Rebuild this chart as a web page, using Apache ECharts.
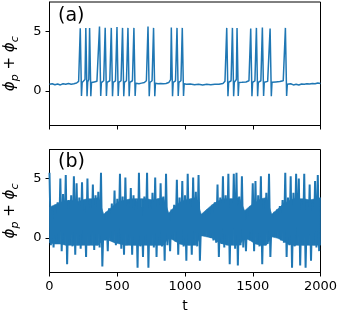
<!DOCTYPE html>
<html>
<head>
<meta charset="utf-8">
<script src="https://cdn.jsdelivr.net/npm/echarts@6/dist/echarts.min.js"></script>
<style>
  html, body { margin: 0; padding: 0; background: #fff; }
  #main { width: 341px; height: 321px; }
</style>
</head>
<body>
<div id="main"></div>
<script>
// panel (a): [t, value] points
const topSignal = [
  [0,0.55],[20,0.6],[40,0.52],[60,0.58],[80,0.5],[100,0.6],[120,0.55],[140,0.62],[160,0.56],[180,0.6],[200,0.66],[215,0.8],[222,0.95],
  [227,5.25],[236,-0.42],[241,0.7],[252,0.85],[262,0.95],
  [268,5.28],[277,-0.45],[282,0.75],[290,0.95],
  [296,5.28],[305,-0.45],[310,0.7],[330,0.75],[350,0.8],[363,0.95],
  [369,5.4],[378,-0.42],[383,0.7],[400,0.85],[406,0.95],
  [411,5.3],[420,-0.42],[425,0.72],[445,0.85],[451,0.95],
  [456,5.28],[465,-0.45],[470,0.72],[487,0.85],[493,0.95],
  [498,5.35],[507,-0.42],[512,0.72],[528,0.85],[534,0.95],
  [539,5.28],[548,-0.45],[553,0.72],[568,0.85],[574,0.95],
  [579,5.28],[588,-0.45],[593,0.72],[612,0.85],[618,0.95],
  [623,5.28],[632,-0.42],[637,0.65],[660,0.6],[680,0.65],[700,0.7],[715,0.85],[722,1.0],
  [727,5.4],[736,-0.45],[741,0.7],[757,0.85],[763,0.95],
  [768,5.28],[777,-0.45],[782,0.65],[800,0.6],[820,0.62],[840,0.6],[860,0.62],[880,0.7],[890,0.85],[894,0.95],
  [899,5.32],[908,-0.45],[913,0.72],[930,0.85],[936,0.95],
  [941,5.28],[950,-0.42],[955,0.72],[970,0.85],[975,0.95],
  [980,5.28],[989,-0.42],[994,0.6],[1010,0.55],[1040,0.58],[1070,0.52],[1100,0.56],[1130,0.5],[1160,0.55],[1190,0.52],[1220,0.56],[1250,0.55],[1280,0.62],[1295,0.8],[1303,0.95],
  [1308,5.28],[1317,-0.45],[1322,0.72],[1340,0.85],[1345,0.95],
  [1350,5.28],[1359,-0.45],[1364,0.72],[1375,0.85],[1379,0.95],
  [1384,5.28],[1393,-0.42],[1398,0.7],[1420,0.72],[1450,0.75],[1472,0.85],[1480,0.95],
  [1485,5.22],[1494,-0.45],[1499,0.72],[1516,0.85],[1522,0.95],
  [1527,5.28],[1536,-0.45],[1541,0.72],[1560,0.85],[1566,0.95],
  [1571,5.32],[1580,-0.42],[1585,0.72],[1610,0.8],[1623,0.95],
  [1628,5.22],[1637,-0.45],[1642,0.72],[1670,0.75],[1700,0.78],[1725,0.85],[1736,0.95],
  [1741,5.28],[1750,-0.42],[1755,0.55],[1780,0.6],[1800,0.5],[1820,0.55],[1840,0.5],[1860,0.58],[1880,0.55],[1900,0.6],[1920,0.58],[1940,0.62],[1960,0.6],[1980,0.66],[2000,0.62]
];

// panel (b): local maxima / minima every bottomStep in t
const bottomStep = 20;
const bottomHigh = [
  5.5, 2.3, 2.6, 3.0, 5.0, 3.7, 5.3, 3.2, 3.6, 5.2,
  4.6, 3.4, 4.7, 2.4, 5.0, 2.8, 4.5, 3.6, 3.9, 5.5,
  2.0, 2.2, 2.5, 2.9, 4.0, 3.3, 5.4, 3.5, 5.1, 3.0,
  4.2, 3.6, 3.1, 5.5, 2.6, 3.5, 5.5, 3.2, 3.8, 5.1,
  3.3, 4.6, 3.5, 5.4, 2.1, 2.4, 2.8, 4.9, 3.4, 4.8,
  3.6, 5.4, 3.2, 5.1, 3.9, 5.3, 2.0, 2.1, 2.3, 2.5,
  2.7, 3.0, 4.5, 3.4, 5.2, 3.6, 5.4, 3.3, 5.4, 5.5,
  3.5, 5.2, 2.3, 2.4, 2.6, 4.6, 4.8, 3.6, 5.2, 3.2,
  3.8, 5.4, 2.0, 2.2, 2.4, 2.7, 3.2, 5.5, 3.4, 5.2,
  3.8, 5.4, 5.0, 3.1, 5.4, 3.0, 4.5, 3.0, 4.8, 5.3
];
const bottomLow = [
  -0.6, -0.8, -0.3, -0.5, -1.1, -0.4, -2.2, -0.5, -0.7, -1.4,
  -0.6, -0.9, -0.5, -1.6, -0.6, -0.4, -1.0, -0.6, -0.8, -2.4,
  -0.2, -1.1, 0.0, -0.3, -0.6, -0.4, -0.9, -1.4, -0.6, -0.5,
  -1.4, -0.6, -2.5, -0.7, -1.6, -0.5, -2.5, -0.6, -0.8, -1.6,
  -0.5, -0.7, -1.9, -0.6, -1.1, 0.0, -0.3, -1.4, -0.5, -0.7,
  -1.9, -0.6, -1.4, -0.5, -0.7, -1.9, 0.2, 0.2, 0.1, 0.0,
  -0.2, -0.4, -1.6, -0.5, -0.8, -0.6, -2.2, -0.5, -0.9, -2.3,
  -0.6, -0.8, -1.1, 0.1, -0.1, -1.1, -0.5, -0.7, -2.2, -0.6,
  -0.5, -1.6, 0.2, 0.1, 0.0, -0.2, -0.4, -1.6, -0.6, -2.5,
  -0.7, -0.5, -2.3, -0.6, -2.5, -0.5, -1.9, -0.6, -0.8, -1.1
];
// panel (b): edges of the solid, densely oscillating core, every bandStep in t
const bandStep = 40;
const bandTop = [
  2.6, 2.8, 3.0, 3.1, 3.2, 3.0, 3.2, 3.3, 3.3, 3.4,
  2.0, 2.4, 2.8, 3.1, 3.2, 3.3, 3.3, 3.3, 3.3, 3.2,
  3.3, 3.4, 2.1, 2.6, 3.0, 3.2, 3.3, 3.4, 2.0, 2.4,
  2.8, 3.1, 3.3, 3.3, 3.3, 3.4, 2.3, 2.7, 3.0, 3.3,
  3.4, 2.0, 2.4, 2.8, 3.1, 3.3, 3.3, 3.3, 3.2, 3.3, 3.4
];
const bandBottom = [
  -0.4, -0.5, -0.5, -0.6, -0.6, -0.6, -0.6, -0.6, -0.6, -0.6,
  -0.1, -0.2, -0.4, -0.5, -0.6, -0.6, -0.6, -0.6, -0.6, -0.6,
  -0.6, -0.6, 0.0, -0.2, -0.5, -0.6, -0.6, -0.6, 0.2, 0.1,
  0.0, -0.3, -0.5, -0.6, -0.6, -0.6, 0.0, -0.2, -0.5, -0.6,
  -0.6, 0.1, 0.0, -0.2, -0.5, -0.6, -0.6, -0.6, -0.6, -0.6, -0.6
];

const xTicks = { min: 0, max: 2000, interval: 500 };
const yTickValues = [0, 5];
const yRange = { min: -2.9, max: 7.45 };
const panelLabels = ['(a)', '(b)'];

const bottomSignal = [];
bottomHigh.forEach((v, i) => {
  bottomSignal.push([i * bottomStep, v]);
  bottomSignal.push([i * bottomStep + bottomStep / 2, bottomLow[i]]);
});
const bandData = bandTop.map((v, i) => [i * bandStep, v, bandBottom[i]]);

var chartDom = document.getElementById('main');
var myChart = echarts.init(chartDom, null, { renderer: 'canvas' });

const font = 'DejaVu Sans';
const lineColor = '#1f77b4';

const yName = '{i|ϕ}{s|p}{n| + }{i|ϕ}{s|c}';
const yNameStyle = {
  fontFamily: font,
  rich: {
    i: { fontFamily: font, fontStyle: 'italic', fontSize: 15, color: '#000' },
    s: { fontFamily: font, fontStyle: 'italic', fontSize: 11, color: '#000', padding: [9, 0, 0, 0] },
    n: { fontFamily: font, fontSize: 15, color: '#000' }
  }
};

function makeX(gridIndex, showLabels) {
  return {
    type: 'value',
    gridIndex: gridIndex,
    min: xTicks.min,
    max: xTicks.max,
    interval: xTicks.interval,
    name: showLabels ? 't' : '',
    nameLocation: 'middle',
    nameGap: 27,
    nameTextStyle: { fontFamily: font, fontSize: 14, color: '#000' },
    axisLine: { show: true, onZero: false, lineStyle: { color: '#000', width: 1 } },
    axisTick: { show: true, length: 4, lineStyle: { color: '#000', width: 1 } },
    axisLabel: {
      show: showLabels, margin: 8, fontFamily: font, fontSize: 13, color: '#000',
      formatter: function (value) { return String(value); }
    },
    splitLine: { show: false }
  };
}

function makeY(gridIndex) {
  return {
    type: 'value',
    gridIndex: gridIndex,
    min: yRange.min,
    max: yRange.max,
    name: yName,
    nameLocation: 'middle',
    nameRotate: 90,
    nameGap: 29,
    nameTextStyle: yNameStyle,
    axisLine: { show: true, onZero: false, lineStyle: { color: '#000', width: 1 } },
    axisTick: { show: true, length: 4, customValues: yTickValues, lineStyle: { color: '#000', width: 1 } },
    axisLabel: { show: true, margin: 8, customValues: yTickValues, fontFamily: font, fontSize: 13, color: '#000' },
    splitLine: { show: false }
  };
}

// fills the dense core between bandTop and bandBottom, one quad per step
function renderBand(params, api) {
  var i = params.dataIndex;
  if (i >= bandData.length - 1) return null;
  var a = bandData[i], b = bandData[i + 1];
  var points = [
    api.coord([a[0], a[1]]),
    api.coord([b[0], b[1]]),
    api.coord([b[0], b[2]]),
    api.coord([a[0], a[2]])
  ];
  return {
    type: 'polygon',
    shape: { points: points },
    style: { fill: lineColor, stroke: lineColor, lineWidth: 0.6 }
  };
}

var option = {
  animation: false,
  backgroundColor: '#fff',
  title: [
    { text: panelLabels[0], left: 53, top: 2, textStyle: { fontFamily: font, fontSize: 19, fontWeight: 'normal', color: '#000' } },
    { text: panelLabels[1], left: 53, top: 148, textStyle: { fontFamily: font, fontSize: 19, fontWeight: 'normal', color: '#000' } }
  ],
  grid: [
    { left: 49.5, top: 2, width: 271, height: 123.5, show: true, borderColor: '#000', borderWidth: 1, outerBoundsMode: 'none' },
    { left: 49.5, top: 149.5, width: 271, height: 123, show: true, borderColor: '#000', borderWidth: 1, outerBoundsMode: 'none' }
  ],
  xAxis: [makeX(0, false), makeX(1, true)],
  yAxis: [makeY(0), makeY(1)],
  series: [
    {
      type: 'line',
      xAxisIndex: 0,
      yAxisIndex: 0,
      data: topSignal,
      showSymbol: false,
      lineStyle: { color: lineColor, width: 1.5 },
      z: 1
    },
    {
      type: 'custom',
      xAxisIndex: 1,
      yAxisIndex: 1,
      data: bandData,
      encode: { x: 0, y: [1, 2] },
      renderItem: renderBand,
      clip: true,
      z: 1
    },
    {
      type: 'line',
      xAxisIndex: 1,
      yAxisIndex: 1,
      data: bottomSignal,
      showSymbol: false,
      lineStyle: { color: lineColor, width: 2 },
      z: 2
    }
  ]
};

option && myChart.setOption(option);
</script>
</body>
</html>
